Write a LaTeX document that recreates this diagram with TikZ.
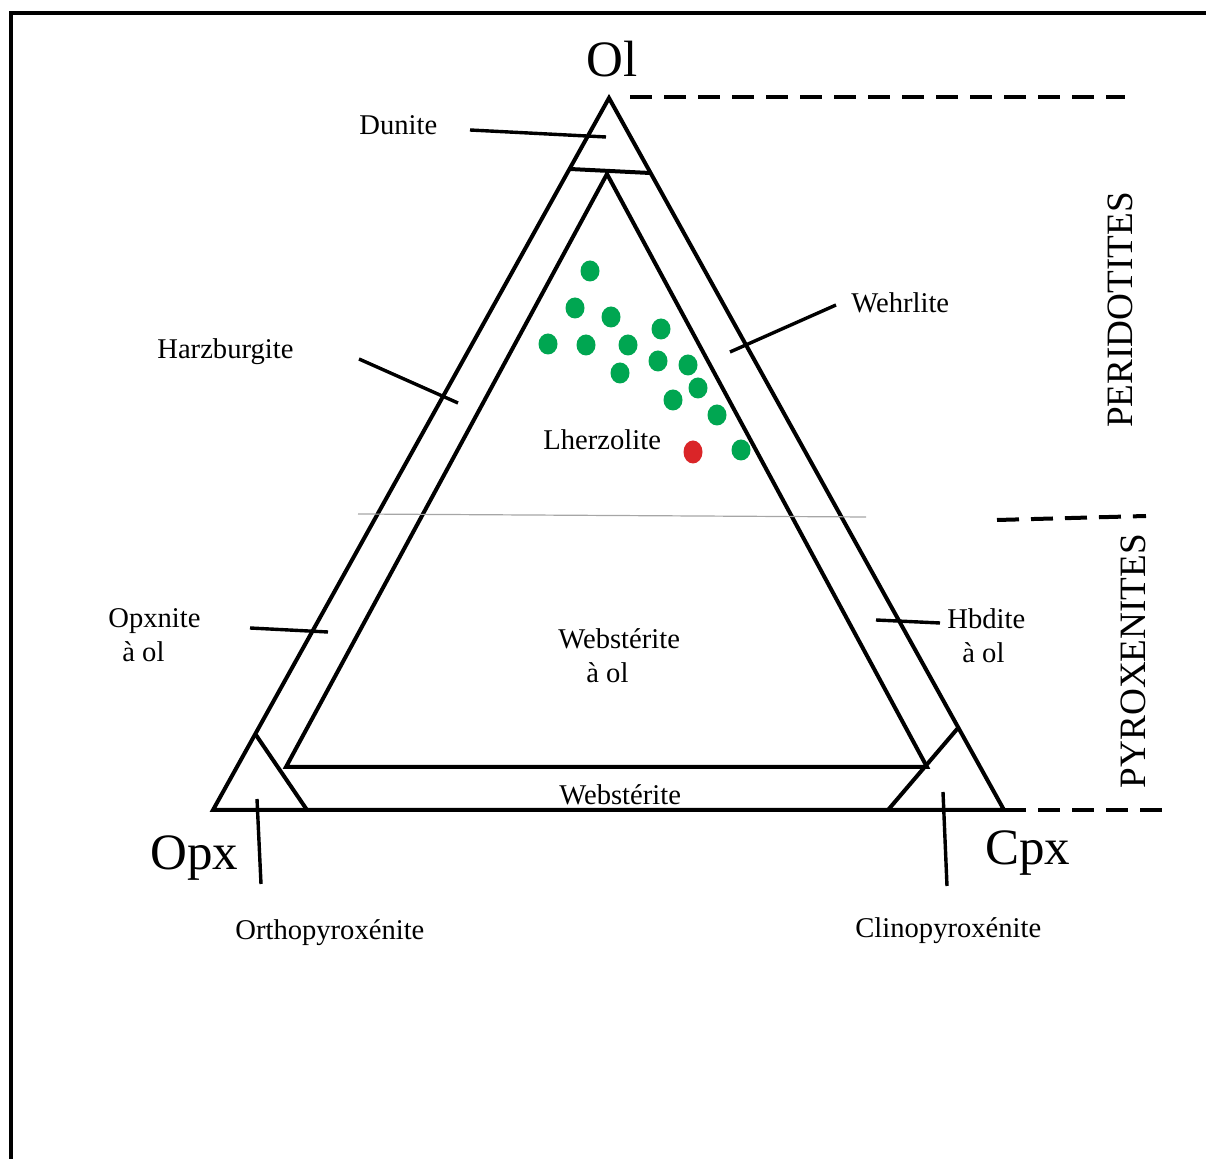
\documentclass[tikz,border=0pt]{standalone}
\usepackage{fontspec}
\setmainfont{Liberation Serif}
\usepackage{tikz}
\usetikzlibrary{shapes.geometric}
\definecolor{dotgreen}{RGB}{0,166,81}
\definecolor{dotred}{RGB}{218,37,40}
\tikzset{
  edge/.style={draw=black, line width=2pt},
  leader/.style={draw=black, line width=1.7pt},
  limit/.style={draw=black, line width=2pt, dash pattern=on 11pt off 6pt},
  lbl/.style={inner sep=0pt, anchor=base west, align=left, font=\fontsize{14.3}{17}\selectfont},
  pole/.style={inner sep=0pt, anchor=base west, font=\fontsize{25.5}{30}\selectfont},
  group/.style={inner sep=0pt, rotate=90, font=\fontsize{18.6}{22}\selectfont},
  gdot/.style={ellipse, fill=dotgreen, minimum width=9.5pt, minimum height=10.5pt, inner sep=0pt},
  rdot/.style={ellipse, fill=dotred, minimum width=9.5pt, minimum height=11.5pt, inner sep=0pt}
}
\begin{document}
\begin{tikzpicture}[x=0.5pt,y=-0.5pt]
\useasboundingbox (0,0) rectangle (1206,1159);
% frame
\draw[line width=2pt] (10.5,1159) -- (10.5,13) -- (1206,13);

% poles of the triangle
\coordinate (ol) at (609,98);
\coordinate (opx) at (213,810);
\coordinate (cpx) at (1004,810);
\coordinate (iol) at (607,174);
\coordinate (iopx) at (286,767);
\coordinate (icpx) at (927,767);
\draw[edge] (ol) -- (opx) -- (cpx) -- cycle;
\draw[edge] (iol) -- (iopx) -- (icpx) -- cycle;

% corner fields
\coordinate (dul) at (570,169);
\coordinate (dur) at (650,173);
\coordinate (opa) at (256,735);
\coordinate (opb) at (307,810);
\coordinate (cpa) at (958,728);
\coordinate (cpb) at (888,810);
\draw[edge] (dul) -- (dur);
\draw[edge] (opa) -- (opb);
\draw[edge] (cpa) -- (cpb);

% peridotite / pyroxenite boundary
\coordinate (bl) at (358,514);
\coordinate (br) at (866,517);
\draw[draw=black!35, line width=0.6pt] (bl) -- (br);

% dashed limits on the right
\coordinate (t1) at (630,97);
\coordinate (t2) at (1125,97);
\coordinate (m1) at (997,520);
\coordinate (m2) at (1146,516);
\coordinate (b2) at (1162,810);
\draw[limit] (t1) -- (t2);
\draw[limit] (m1) -- (m2);
\draw[limit] (cpx) -- (b2);

% labels
\node[pole] (lol) at (586,77) {Ol};
\node[pole] (lopx) at (150,870) {Opx};
\node[pole] (lcpx) at (985,865) {Cpx};
\node[group] (peri) at (1120,310) {PERIDOTITES};
\node[group] (pyro) at (1133,661) {PYROXENITES};

\node[lbl] (dun) at (359,135) {Dunite};
\node[lbl] (harz) at (157,359) {Harzburgite};
\node[lbl] (wehr) at (851,313) {Wehrlite};
\node[lbl] (lherz) at (543,450) {Lherzolite};
\node[lbl] (webol) at (558,683) {Webstérite\\\hspace*{14pt}à ol};
\node[lbl] (opxol) at (108,662) {Opxnite\\\hspace*{7pt}à ol};
\node[lbl] (hbd) at (947,663) {Hbdite\\\hspace*{7.5pt}à ol};
\node[lbl] (web) at (559,805) {Webstérite};
\node[lbl] (ortho) at (235,940) {Orthopyroxénite};
\node[lbl] (clino) at (855,938) {Clinopyroxénite};

% leaders
\coordinate (ld1) at (470,130);  \coordinate (ld2) at (606,137);
\coordinate (lh1) at (359,359);  \coordinate (lh2) at (458,403);
\coordinate (lw1) at (836,305);  \coordinate (lw2) at (730,352);
\coordinate (lo1) at (250,628);  \coordinate (lo2) at (328,632);
\coordinate (lb1) at (876,620);  \coordinate (lb2) at (940,623);
\coordinate (lt1) at (257,799);  \coordinate (lt2) at (261,884);
\coordinate (lc1) at (943,792);  \coordinate (lc2) at (947,886);
\draw[leader] (ld1) -- (ld2);
\draw[leader] (lh1) -- (lh2);
\draw[leader] (lw1) -- (lw2);
\draw[leader] (lo1) -- (lo2);
\draw[leader] (lb1) -- (lb2);
\draw[leader] (lt1) -- (lt2);
\draw[leader] (lc1) -- (lc2);

% samples
\foreach \x/\y [count=\i] in {590/271,575/308,611/317,661/329,548/344,586/345,628/345,
  658/361,688/365,620/373,698/388,673/400,717/415,741/450}
  \node[gdot] (g\i) at (\x,\y) {};
\node[rdot] (r1) at (693,452) {};
\end{tikzpicture}
\end{document}
